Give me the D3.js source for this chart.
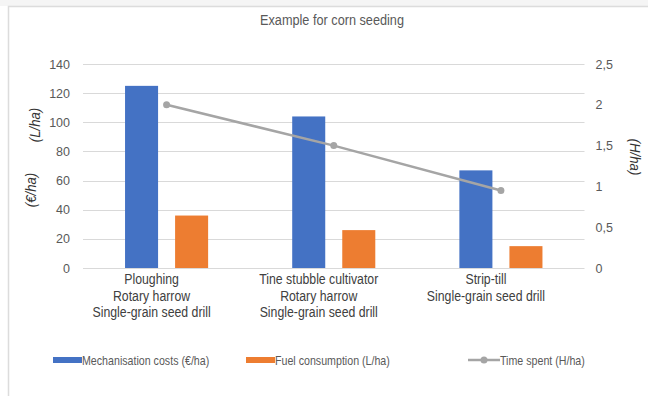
<!DOCTYPE html>
<html>
<head>
<meta charset="utf-8">
<script src="https://cdn.jsdelivr.net/npm/d3@7"></script>
<style>
  html, body { margin: 0; padding: 0; background: #fff; }
  svg { display: block; }
  text { font-family: "Liberation Sans", Arial, sans-serif; }
</style>
</head>
<body>
<svg id="chart" width="648" height="396"></svg>
<script>
// Seeding methods compared
const categories = [
  ["Ploughing", "Rotary harrow", "Single-grain seed drill"],
  ["Tine stubble cultivator", "Rotary harrow", "Single-grain seed drill"],
  ["Strip-till", "Single-grain seed drill"]
];
const categoryKeys = ["A", "B", "C"];
const mechanisationCosts = [125, 104, 67];   // €/ha
const fuelConsumption = [36, 26, 15];        // L/ha
const timeSpent = [2.0, 1.5, 0.95];          // H/ha
const leftTicks = [0, 20, 40, 60, 80, 100, 120, 140];
const rightTicks = [0, 0.5, 1, 1.5, 2, 2.5];
const barSeries = ["Mechanisation costs (€/ha)", "Fuel consumption (L/ha)"];
const lineSeries = "Time spent (H/ha)";

const svg = d3.select("#chart");
const W = 648, H = 396;
const plot = { left: 83, right: 584.5, top: 64, bottom: 268 };
const textColor = "#595959";
const colors = { bar: ["#4472c4", "#ed7d31"], line: "#a5a5a5", grid: "#d9d9d9" };
const NARROW = 0.82; // horizontal squeeze giving a narrow sans face

// text placed with a narrow horizontal scale
function narrowText(parent, x, y, size, fill, anchor) {
  return parent.append("text")
    .attr("transform", `translate(${x},${y}) scale(${NARROW},1)`)
    .attr("font-size", size).attr("fill", fill)
    .attr("text-anchor", anchor || "start");
}

// chart frame
svg.append("rect").attr("x", 0).attr("y", 0).attr("width", W).attr("height", 6).attr("fill", "#f5f5f5");
svg.append("rect").attr("x", 8.5).attr("y", 6.5).attr("width", W + 10).attr("height", H + 10)
  .attr("fill", "#fff").attr("stroke", "#dcdcdc").attr("stroke-width", 1.5);

const x0 = d3.scaleBand().domain(categoryKeys).range([plot.left, plot.right]).paddingInner(0).paddingOuter(0);
const x1 = d3.scaleBand().domain(barSeries).range([0, x0.bandwidth()]).paddingInner(0.34).paddingOuter(0.84);
const yL = d3.scaleLinear().domain([0, 140]).range([plot.bottom, plot.top]);
const yR = d3.scaleLinear().domain([0, 2.5]).range([plot.bottom, plot.top]);

// gridlines
svg.append("g").selectAll("line").data(leftTicks.filter(d => d > 0)).join("line")
  .attr("x1", plot.left).attr("x2", plot.right)
  .attr("y1", d => Math.round(yL(d)) + 0.5).attr("y2", d => Math.round(yL(d)) + 0.5)
  .attr("stroke", colors.grid).attr("stroke-width", 1);

// left axis
const leftAxis = svg.append("g").attr("transform", `translate(${plot.left},0)`)
  .call(d3.axisLeft(yL).tickValues(leftTicks).tickSize(0).tickPadding(13).tickFormat(d3.format("d")));
leftAxis.select(".domain").remove();
leftAxis.selectAll("text").attr("fill", textColor).attr("font-size", 12.5);

// right axis
const fmtComma = d => String(d).replace(".", ",");
const rightAxis = svg.append("g").attr("transform", `translate(${plot.right},0)`)
  .call(d3.axisRight(yR).tickValues(rightTicks).tickSize(0).tickPadding(11).tickFormat(fmtComma));
rightAxis.select(".domain").remove();
rightAxis.selectAll("text").attr("fill", textColor).attr("font-size", 12.5);

// bars
const barData = categoryKeys.map((k, i) => ({ key: k, values: [mechanisationCosts[i], fuelConsumption[i]] }));
const groups = svg.append("g").selectAll("g").data(barData).join("g")
  .attr("transform", d => `translate(${x0(d.key)},0)`);
groups.selectAll("rect").data(d => d.values.map((v, j) => ({ s: barSeries[j], v, j }))).join("rect")
  .attr("x", d => x1(d.s)).attr("width", x1.bandwidth())
  .attr("y", d => yL(d.v)).attr("height", d => yL(0) - yL(d.v))
  .attr("fill", d => colors.bar[d.j]);

// x axis baseline
svg.append("line").attr("x1", plot.left).attr("x2", plot.right)
  .attr("y1", plot.bottom + 0.5).attr("y2", plot.bottom + 0.5)
  .attr("stroke", colors.grid).attr("stroke-width", 1);

// time line
const cx = k => x0(k) + x0.bandwidth() / 2;
const linePts = categoryKeys.map((k, i) => [cx(k), yR(timeSpent[i])]);
svg.append("path").attr("d", d3.line()(linePts))
  .attr("fill", "none").attr("stroke", colors.line).attr("stroke-width", 2.5);
svg.append("g").selectAll("circle").data(linePts).join("circle")
  .attr("cx", d => d[0]).attr("cy", d => d[1]).attr("r", 3.5).attr("fill", colors.line);

// category labels
const catLabels = svg.append("g");
categoryKeys.forEach((k, i) => {
  const t = narrowText(catLabels, cx(k) - 15, 284, 15, "#404040", "middle");
  categories[i].forEach((line, j) => {
    t.append("tspan").attr("x", 0).attr("dy", j === 0 ? 0 : 16.7).text(line);
  });
});

// title
narrowText(svg, 332, 25, 15.5, textColor, "middle").text("Example for corn seeding");

// axis titles
const axisTitle = (x, y, rot, txt) => svg.append("text")
  .attr("transform", `translate(${x},${y}) rotate(${rot}) scale(0.85,1)`)
  .attr("text-anchor", "middle").attr("dy", "0.35em")
  .attr("font-style", "italic")
  .attr("font-size", 15.5).attr("fill", "#333333").text(txt);
axisTitle(35, 125, -90, "(L/ha)");
axisTitle(31, 190, -90, "(€/ha)");
axisTitle(635, 157, 90, "(H/ha)");

// legend
const legend = svg.append("g");
const legendY = 360;
const legendItems = [
  { x: 53, label: barSeries[0], kind: "bar", color: colors.bar[0] },
  { x: 246, label: barSeries[1], kind: "bar", color: colors.bar[1] },
  { x: 468, label: lineSeries, kind: "line", color: colors.line }
];
legendItems.forEach(it => {
  let tx;
  if (it.kind === "bar") {
    legend.append("rect").attr("x", it.x).attr("y", legendY - 3).attr("width", 29).attr("height", 6).attr("fill", it.color);
    tx = it.x + 29;
  } else {
    legend.append("line").attr("x1", it.x).attr("x2", it.x + 32).attr("y1", legendY).attr("y2", legendY)
      .attr("stroke", it.color).attr("stroke-width", 2.5);
    legend.append("circle").attr("cx", it.x + 16).attr("cy", legendY).attr("r", 3.5).attr("fill", it.color);
    tx = it.x + 32;
  }
  narrowText(legend, tx, legendY + 4.5, 13, textColor).text(it.label);
});
</script>
</body>
</html>
